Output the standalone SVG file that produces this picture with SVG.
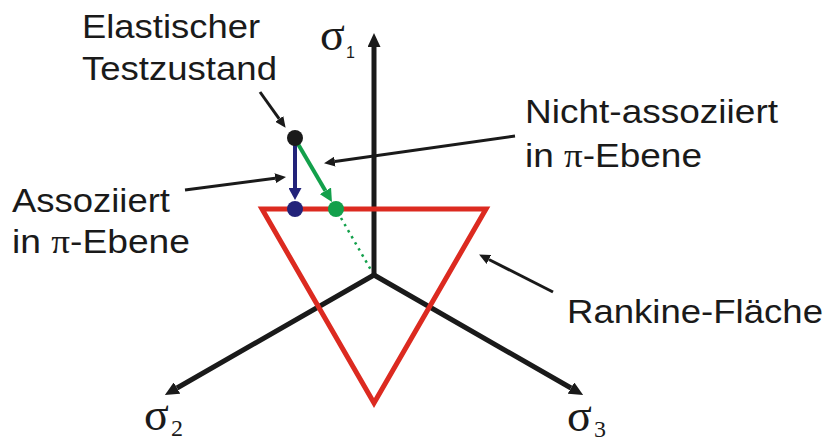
<svg xmlns="http://www.w3.org/2000/svg" width="830" height="441" viewBox="0 0 830 441">
<style>
.lbl{font-family:"Liberation Sans",Arial,sans-serif;font-size:34px;fill:#1a1a1a}
.sig{font-family:"Liberation Serif","Times New Roman",serif;font-size:46px;fill:#1a1a1a}
.sub{font-family:"Liberation Serif","Times New Roman",serif;font-size:24px;fill:#1a1a1a}
.pi{font-family:"Liberation Serif","Times New Roman",serif}
.axis{fill:none;stroke:#1a1a1a;stroke-width:5;stroke-linejoin:miter}
.lead{fill:none;stroke:#1a1a1a;stroke-width:3}
</style>
<defs>
<marker id="ah" markerUnits="userSpaceOnUse" markerWidth="14" markerHeight="13" viewBox="0 0 14 13" refX="0" refY="6.5" orient="auto-start-reverse"><path d="M0,0 L14,6.5 L0,13 z" fill="#1a1a1a"/></marker>
<marker id="lh" markerUnits="userSpaceOnUse" markerWidth="11" markerHeight="10" viewBox="0 0 11 10" refX="0" refY="5" orient="auto"><path d="M0,0 L11,5 L0,10 z" fill="#1a1a1a"/></marker>
<marker id="bh" markerUnits="userSpaceOnUse" markerWidth="12" markerHeight="13" viewBox="0 0 12 13" refX="0" refY="6.5" orient="auto"><path d="M0,0 L12,6.5 L0,13 z" fill="#23237a"/></marker>
<marker id="gh" markerUnits="userSpaceOnUse" markerWidth="13" markerHeight="13" viewBox="0 0 13 13" refX="0" refY="6.5" orient="auto"><path d="M0,0 L13,6.5 L0,13 z" fill="#13a04b"/></marker>
</defs>

<g id="axes">
<path class="axis" d="M374,277 L374,47" marker-end="url(#ah)"/>
<path class="axis" d="M177,388 L374,275 L571,388" marker-start="url(#ah)" marker-end="url(#ah)"/>
</g>

<g id="rankine">
<polygon points="262,209 486,209 374,403" fill="none" stroke="#dc2a20" stroke-width="5" stroke-linejoin="miter"/>
</g>

<g id="connectors">
<path class="lead" d="M260,92 L279.2,118.9" marker-end="url(#lh)"/>
<path class="lead" d="M515,136 L334.9,161.6" marker-end="url(#lh)"/>
<path class="lead" d="M185,190 L275.1,178.3" marker-end="url(#lh)"/>
<path class="lead" d="M553,292 L488.9,259.5" marker-end="url(#lh)"/>
<path d="M295,145 L295,188" stroke="#23237a" stroke-width="4" fill="none" marker-end="url(#bh)"/>
<path d="M298,144 L325.4,190.8" stroke="#13a04b" stroke-width="4" fill="none" marker-end="url(#gh)"/>
<path d="M341,218 L371,270" stroke="#13a04b" stroke-width="2.5" stroke-dasharray="2.5,4.5" fill="none"/>
</g>

<g id="trial-point"><circle cx="295" cy="138" r="8" fill="#1a1a1a"/></g>
<g id="assoc-point"><circle cx="295" cy="209" r="8" fill="#23237a"/></g>
<g id="nonassoc-point"><circle cx="336" cy="209" r="8" fill="#13a04b"/></g>

<g id="label-elastic">
<text class="lbl" x="82" y="38" textLength="178" lengthAdjust="spacingAndGlyphs">Elastischer</text>
<text class="lbl" x="82" y="80" textLength="195" lengthAdjust="spacingAndGlyphs">Testzustand</text>
</g>
<g id="label-nonassoc">
<text class="lbl" x="525" y="123" textLength="253" lengthAdjust="spacingAndGlyphs">Nicht-assoziiert</text>
<text class="lbl" x="525" y="167" textLength="177" lengthAdjust="spacingAndGlyphs">in <tspan class="pi">π</tspan>-Ebene</text>
</g>
<g id="label-assoc">
<text class="lbl" x="12" y="212" textLength="158" lengthAdjust="spacingAndGlyphs">Assoziiert</text>
<text class="lbl" x="12" y="253" textLength="178" lengthAdjust="spacingAndGlyphs">in <tspan class="pi">π</tspan>-Ebene</text>
</g>
<g id="label-rankine">
<text class="lbl" x="567" y="323" textLength="256" lengthAdjust="spacingAndGlyphs">Rankine-Fläche</text>
</g>
<g id="label-s1">
<text class="sig" x="320" y="50">σ</text>
<text x="346" y="58" style="font-family:'Liberation Sans',Arial,sans-serif;font-size:16px;fill:#1a1a1a">1</text>
</g>
<g id="label-s2">
<text class="sig" x="144" y="430">σ</text>
<text class="sub" x="171" y="436">2</text>
</g>
<g id="label-s3">
<text class="sig" x="567" y="431">σ</text>
<text class="sub" x="594" y="437">3</text>
</g>
</svg>
